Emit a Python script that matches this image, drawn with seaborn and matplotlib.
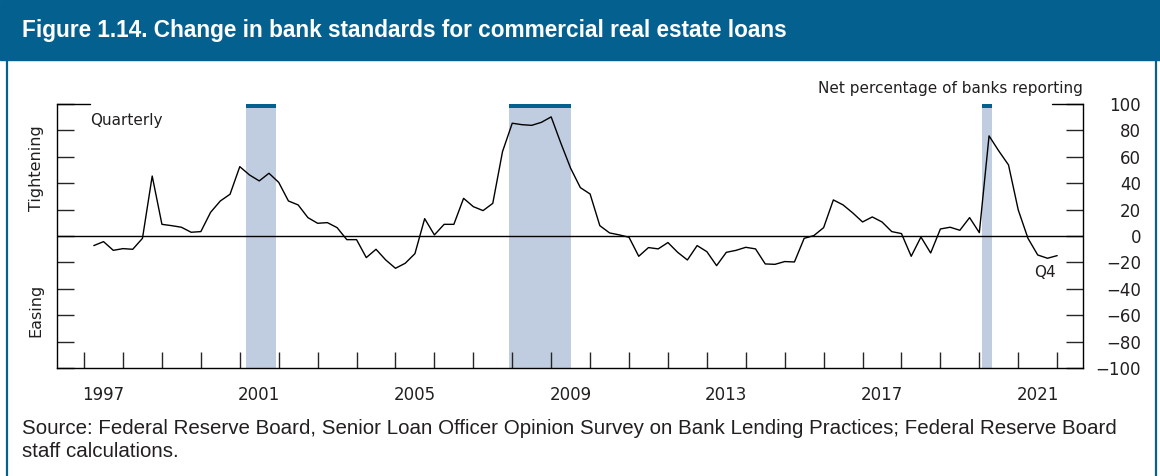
import numpy as np
import pandas as pd
import matplotlib
matplotlib.use('Agg')
import matplotlib.pyplot as plt
import seaborn as sns
from matplotlib.patches import Rectangle

sns.set_style('white')
plt.rcParams['font.family'] = ['DejaVu Sans']

# quarterly net percentage of banks reporting tighter standards, 1997Q1-2021Q4
years = list(range(1997, 2022))
net_pct = [
    -7.3, -4.3, -10.9, -9.6,     # 1997
    -10.1, -1.8, 45.4, 8.8,      # 1998
    7.8, 6.6, 2.8, 3.3,          # 1999
    17.9, 26.5, 31.6, 52.5,      # 2000
    46.2, 41.7, 47.5, 40.6,      # 2001
    26.5, 23.5, 13.9, 9.6,       # 2002
    10.1, 6.3, -2.8, -2.8,       # 2003
    -16.4, -10.1, -18.2, -24.5,  # 2004
    -20.7, -13.4, 13.1, 0.8,     # 2005
    8.8, 8.8, 28.5, 22.2,        # 2006
    19.2, 24.7, 63.9, 85.4,      # 2007
    84.3, 83.8, 86.1, 90.2,      # 2008
    70.2, 51.3, 36.6, 31.8,      # 2009
    7.8, 2.3, 0.8, -1.0,         # 2010
    -15.4, -8.8, -9.8, -5.0,     # 2011
    -12.4, -18.2, -7.3, -11.9,   # 2012
    -22.5, -12.4, -10.9, -8.6,   # 2013
    -9.8, -21.2, -21.5, -19.4,   # 2014
    -19.7, -1.8, 0.3, 6.3,       # 2015
    27.3, 23.5, 17.4, 10.6,      # 2016
    14.4, 10.6, 3.3, 1.8,        # 2017
    -15.4, -0.8, -12.9, 5.3,     # 2018
    6.6, 4.3, 13.9, 2.5,         # 2019
    75.8, 64.4, 53.8, 19.7,      # 2020
    -1.8, -14.4, -16.9, -14.9,   # 2021
]
recessions = [(2001.17, 2001.92), (2007.92, 2009.5), (2020.08, 2020.33)]
year_labels = [1997, 2001, 2005, 2009, 2013, 2017, 2021]
y_ticks = list(range(-100, 101, 20))

df = pd.DataFrame({'year': np.repeat(years, 4), 'quarter': np.tile([1, 2, 3, 4], len(years))})
df['t'] = df['year'] + df['quarter'] / 4
df['value'] = net_pct

band = '#04618f'
shade = '#c0cde0'
ink = '#231f20'

fig = plt.figure(figsize=(11.6, 4.76), dpi=100)

# header band and frame
fig.patches.append(Rectangle((0, 1 - 60 / 476), 1, 60 / 476, transform=fig.transFigure,
                             color=band, zorder=0))
fig.patches.append(Rectangle((7 / 1160, -0.01), (1156 - 7) / 1160, 1.0, transform=fig.transFigure,
                             fill=False, edgecolor=band, lw=1.6, zorder=0))

ax = fig.add_axes([0.049, 0.227, 0.8845, 0.5546])

for a, b in recessions:
    ax.axvspan(a, b, ymin=0, ymax=1, color=shade, lw=0, zorder=0)
    ax.axvspan(a, b, ymin=0.986, ymax=1.0, color=band, lw=0, zorder=1)

ax.axhline(0, color='black', lw=1.0, zorder=2)
sns.lineplot(data=df, x='t', y='value', color='black', lw=1.0, ax=ax, zorder=3)

ax.set_xlim(1996.3, 2022.66)
ax.set_ylim(-100, 100)
ax.set_xlabel('')
ax.set_ylabel('')

for side in ['left', 'right', 'bottom']:
    ax.spines[side].set_visible(True)
    ax.spines[side].set_color('black')
    ax.spines[side].set_linewidth(1.0)
ax.spines['top'].set_visible(False)

# y axis: ticks on both sides, labels on the right only
ax.set_yticks(y_ticks)
ax.tick_params(axis='y', which='major', left=True, right=True, labelleft=False,
               labelright=True, direction='in', length=12, width=1.0, pad=42,
               labelsize=12, labelcolor=ink)
for lbl in ax.get_yticklabels():
    lbl.set_horizontalalignment('right')

# longer caps at the top corners
ax.axhline(100, xmin=0, xmax=0.032, color='black', lw=1.0, clip_on=False)
ax.axhline(100, xmin=0.97, xmax=1.0, color='black', lw=1.0, clip_on=False)

# x axis: ticks at year boundaries, labels mid-year
ax.set_xticks([y + 0.5 for y in year_labels])
ax.set_xticklabels([str(y) for y in year_labels])
ax.set_xticks(list(range(1997, 2023)), minor=True)
ax.tick_params(axis='x', which='major', length=0, pad=13, labelsize=12, labelcolor=ink)
ax.tick_params(axis='x', which='minor', bottom=True, direction='in', length=11.5, width=1.0)

ax.text(0.032, 0.939, 'Quarterly', transform=ax.transAxes, ha='left', va='center',
        fontsize=11, color=ink)
ax.text(2021.69, -27.5, 'Q4', ha='center', va='center', fontsize=11, color=ink)

fig.text(1083 / 1160, 1 - 88 / 476, 'Net percentage of banks reporting', ha='right',
         va='center', fontsize=11, color=ink)
fig.text(36 / 1160, 1 - 168 / 476, 'Tightening', rotation=90, ha='center', va='center',
         fontsize=11.5, color=ink)
fig.text(36 / 1160, 1 - 310 / 476, 'Easing', rotation=90, ha='center', va='center',
         fontsize=11.5, color=ink)

fig.text(22 / 1160, 1 - 30 / 476,
         'Figure 1.14. Change in bank standards for commercial real estate loans',
         ha='left', va='center', color='white', fontsize=16.3, fontweight='bold',
         family=['Liberation Sans', 'DejaVu Sans'])
fig.text(22 / 1160, 1 - 419 / 476,
         'Source: Federal Reserve Board, Senior Loan Officer Opinion Survey on Bank Lending '
         'Practices; Federal Reserve Board\nstaff calculations.',
         ha='left', va='top', fontsize=14.8, color=ink, linespacing=1.25,
         family=['Liberation Sans', 'DejaVu Sans'])

fig.savefig('out.png', dpi=100)
